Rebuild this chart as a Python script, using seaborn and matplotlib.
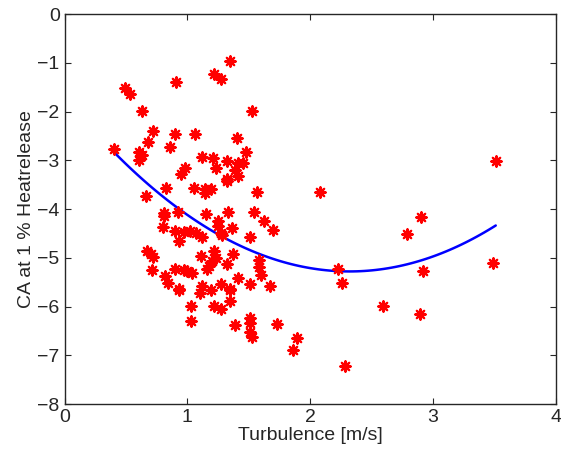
import numpy as np
import pandas as pd
import matplotlib
matplotlib.use("Agg")
import matplotlib.pyplot as plt
import seaborn as sns

# turbulence [m/s] and CA at 1 % heat release
turbulence = [0.40, 0.49, 0.53, 0.91, 1.22, 1.27, 1.35, 0.63, 1.53, 0.72,
              0.90, 1.06, 0.68, 1.40, 0.86, 1.48, 0.61, 0.63, 0.61, 1.12,
              1.21, 1.32, 1.23, 1.41, 1.45, 1.39, 0.98, 0.95, 1.41, 1.32,
              1.32, 0.83, 1.05, 1.14, 1.19, 1.14, 0.66, 1.57, 0.81, 0.81,
              0.92, 1.15, 1.33, 1.54, 1.25, 1.62, 0.80, 1.36, 1.25, 1.70,
              0.90, 0.97, 1.02, 1.07, 1.12, 1.27, 1.28, 1.51, 0.93, 0.67,
              0.70, 0.72, 1.22, 1.37, 1.11, 1.23, 1.20, 1.58, 1.18, 1.32,
              1.58, 0.71, 0.90, 0.97, 1.00, 1.04, 1.16, 1.60, 0.82, 0.84,
              1.41, 1.51, 1.67, 0.93, 1.12, 1.27, 1.35, 0.93, 1.10, 1.19,
              1.35, 1.03, 1.22, 1.27, 1.35, 1.03, 1.39, 1.51, 1.51, 1.51,
              1.53, 1.73, 1.89, 1.86, 3.51, 2.08, 2.90, 2.79, 3.49, 2.23,
              2.26, 2.92, 2.59, 2.89, 2.28]
ca_1pct = [-2.77, -1.52, -1.63, -1.39, -1.23, -1.33, -0.96, -1.98, -1.98, -2.40,
           -2.46, -2.47, -2.63, -2.55, -2.73, -2.83, -2.82, -2.90, -2.99, -2.93,
           -2.96, -3.01, -3.15, -3.05, -3.05, -3.20, -3.16, -3.28, -3.32, -3.39,
           -3.43, -3.56, -3.56, -3.58, -3.58, -3.68, -3.73, -3.65, -4.09, -4.14,
           -4.05, -4.10, -4.05, -4.05, -4.25, -4.24, -4.36, -4.38, -4.35, -4.42,
           -4.45, -4.47, -4.44, -4.50, -4.57, -4.49, -4.53, -4.57, -4.66, -4.86,
           -4.93, -4.99, -4.87, -4.92, -4.96, -5.01, -5.07, -5.05, -5.16, -5.13,
           -5.18, -5.24, -5.22, -5.25, -5.27, -5.31, -5.23, -5.36, -5.37, -5.51,
           -5.42, -5.54, -5.58, -5.63, -5.58, -5.54, -5.63, -5.66, -5.72, -5.66,
           -5.66, -5.99, -5.99, -6.04, -5.89, -6.29, -6.38, -6.23, -6.33, -6.52,
           -6.62, -6.36, -6.64, -6.89, -3.02, -3.64, -4.17, -4.51, -5.11, -5.23,
           -5.51, -5.27, -5.99, -6.15, -7.21]

df = pd.DataFrame({"turb": turbulence, "ca": ca_1pct})

sns.set_style("ticks")
plt.rcParams['font.family'] = ['Liberation Sans', 'DejaVu Sans']

fig = plt.figure(figsize=(5.61, 4.54), dpi=100)
ax = fig.add_axes([0.115, 0.110, 0.876, 0.859])

# quadratic fit through the points
sns.regplot(data=df, x="turb", y="ca", order=2, ci=None, scatter=False,
            line_kws={"color": "blue", "lw": 1.8}, ax=ax)
sns.scatterplot(data=df, x="turb", y="ca", marker=(8, 2, 0), s=55,
                color="red", edgecolor="red", linewidth=1.6, ax=ax, zorder=3)

ax.set_xlim(0, 4)
ax.set_ylim(-8, 0)
ax.set_xticks([0, 1, 2, 3, 4])
ax.set_yticks(range(-8, 1))
ax.set_yticklabels(["\u2212%d" % abs(v) if v else "0" for v in range(-8, 1)])
ax.set_xlabel("Turbulence [m/s]", fontsize=14, labelpad=1)
ax.set_ylabel("CA at 1 % Heatrelease", fontsize=14, labelpad=2)
ax.tick_params(direction="in", top=True, right=True, labelsize=14, length=4, width=0.8)
for s in ax.spines.values():
    s.set_visible(True)
    s.set_linewidth(1.0)

fig.savefig("out.png", dpi=100)
